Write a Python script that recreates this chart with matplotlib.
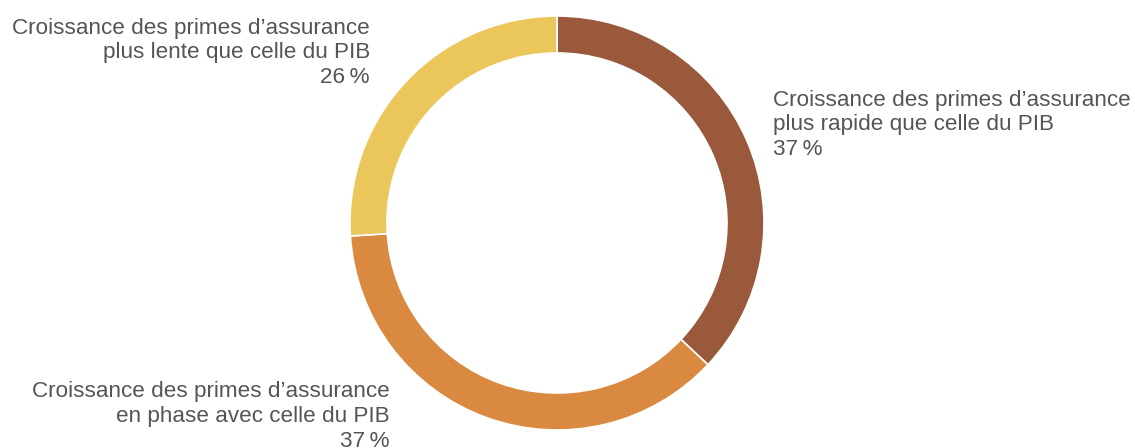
import matplotlib
matplotlib.use("Agg")
import matplotlib.pyplot as plt

plt.rcParams['font.family'] = ['Liberation Sans', 'DejaVu Sans']

# Share of countries by insurance premium growth relative to GDP growth
categories = [
    "Croissance des primes d\u2019assurance\nplus rapide que celle du PIB",
    "Croissance des primes d\u2019assurance\nen phase avec celle du PIB",
    "Croissance des primes d\u2019assurance\nplus lente que celle du PIB",
]
shares = [37, 37, 26]
colors = ["#99593A", "#D98A40", "#EBC65A"]

W, H = 1135, 448
fig = plt.figure(figsize=(W / 100, H / 100), dpi=100)
ax = fig.add_axes([0, 0, 1, 1])

cx, cy, r_out, ring = 557, H - 223, 207, 37
ax.pie(shares, colors=colors, startangle=90, counterclock=False,
       center=(cx, cy), radius=r_out, frame=True,
       wedgeprops=dict(width=ring, edgecolor='white', linewidth=1.2))
ax.set_xlim(0, W)
ax.set_ylim(0, H)
ax.set_aspect('equal')
ax.axis('off')

# Label anchors: (x, y of first line centre, alignment)
label_pos = [(773, H - 100, 'left'), (390, H - 392, 'right'), (370, H - 28, 'right')]
line_step = 24.5
text_color = "#555555"
for cat, val, (x, y, ha) in zip(categories, shares, label_pos):
    lines = cat.split("\n") + [f"{val}\u2009%"]
    for i, line in enumerate(lines):
        ax.text(x, y - i * line_step, line, ha=ha, va='center',
                fontsize=16.2, color=text_color)

fig.savefig("out.png", dpi=100)
